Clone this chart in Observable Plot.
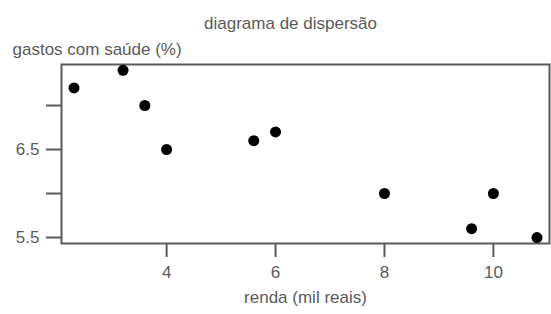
<!DOCTYPE html>
<html>
<head>
<meta charset="utf-8">
<script src="https://cdn.jsdelivr.net/npm/d3@7"></script>
<script src="https://cdn.jsdelivr.net/npm/@observablehq/plot@0.6"></script>
<style>
  html, body { margin: 0; padding: 0; background: #fff; }
  #chart svg { display: block; }
</style>
</head>
<body>
<div id="chart"></div>
<script>
const renda = [2.3, 3.2, 3.6, 4.0, 5.6, 6.0, 8.0, 9.6, 10.0, 10.8];
const gastos = [7.2, 7.4, 7.0, 6.5, 6.6, 6.7, 6.0, 5.6, 6.0, 5.5];
const xTicks = [4, 6, 8, 10];
const yTicks = [5.5, 6, 6.5, 7];
const yLabeled = [5.5, 6.5];
const title = "diagrama de dispersão";
const yTitle = "gastos com saúde (%)";
const xTitle = "renda (mil reais)";

const data = renda.map((r, i) => ({renda: r, gastos: gastos[i]}));
const gray = "#5a5a5a";

const plot = Plot.plot({
  width: 551,
  height: 314,
  marginLeft: 61,
  marginRight: 2,
  marginTop: 64,
  marginBottom: 71,
  style: {fontFamily: "'Liberation Sans', Arial, sans-serif", fontSize: "17px", color: gray, background: "#fff"},
  x: {domain: [2.07, 11.03]},
  y: {domain: [5.432, 7.466]},
  marks: [
    Plot.frame({stroke: gray, strokeWidth: 2}),
    Plot.axisX({ticks: xTicks, tickSize: 14, tickPadding: 8, stroke: gray, strokeWidth: 2, fill: gray, fontSize: 17, label: null}),
    Plot.axisY({ticks: yTicks, tickSize: 15, tickPadding: 7, stroke: gray, strokeWidth: 2, fill: gray, fontSize: 17, label: null,
      tickFormat: d => yLabeled.includes(d) ? d3.format(".1f")(d) : ""}),
    Plot.dot(data, {x: "renda", y: "gastos", r: 5.5, fill: "#000", stroke: "none"}),
    Plot.text([title], {frameAnchor: "top", dx: -15, dy: -48, text: d => d, fill: gray, fontSize: 17}),
    Plot.text([yTitle], {frameAnchor: "top-left", dx: -49, dy: -22, textAnchor: "start", text: d => d, fill: gray, fontSize: 17}),
    Plot.text([xTitle], {frameAnchor: "bottom", dx: 0, dy: 59, text: d => d, fill: gray, fontSize: 17})
  ]
});
document.getElementById("chart").appendChild(plot);
</script>
</body>
</html>
